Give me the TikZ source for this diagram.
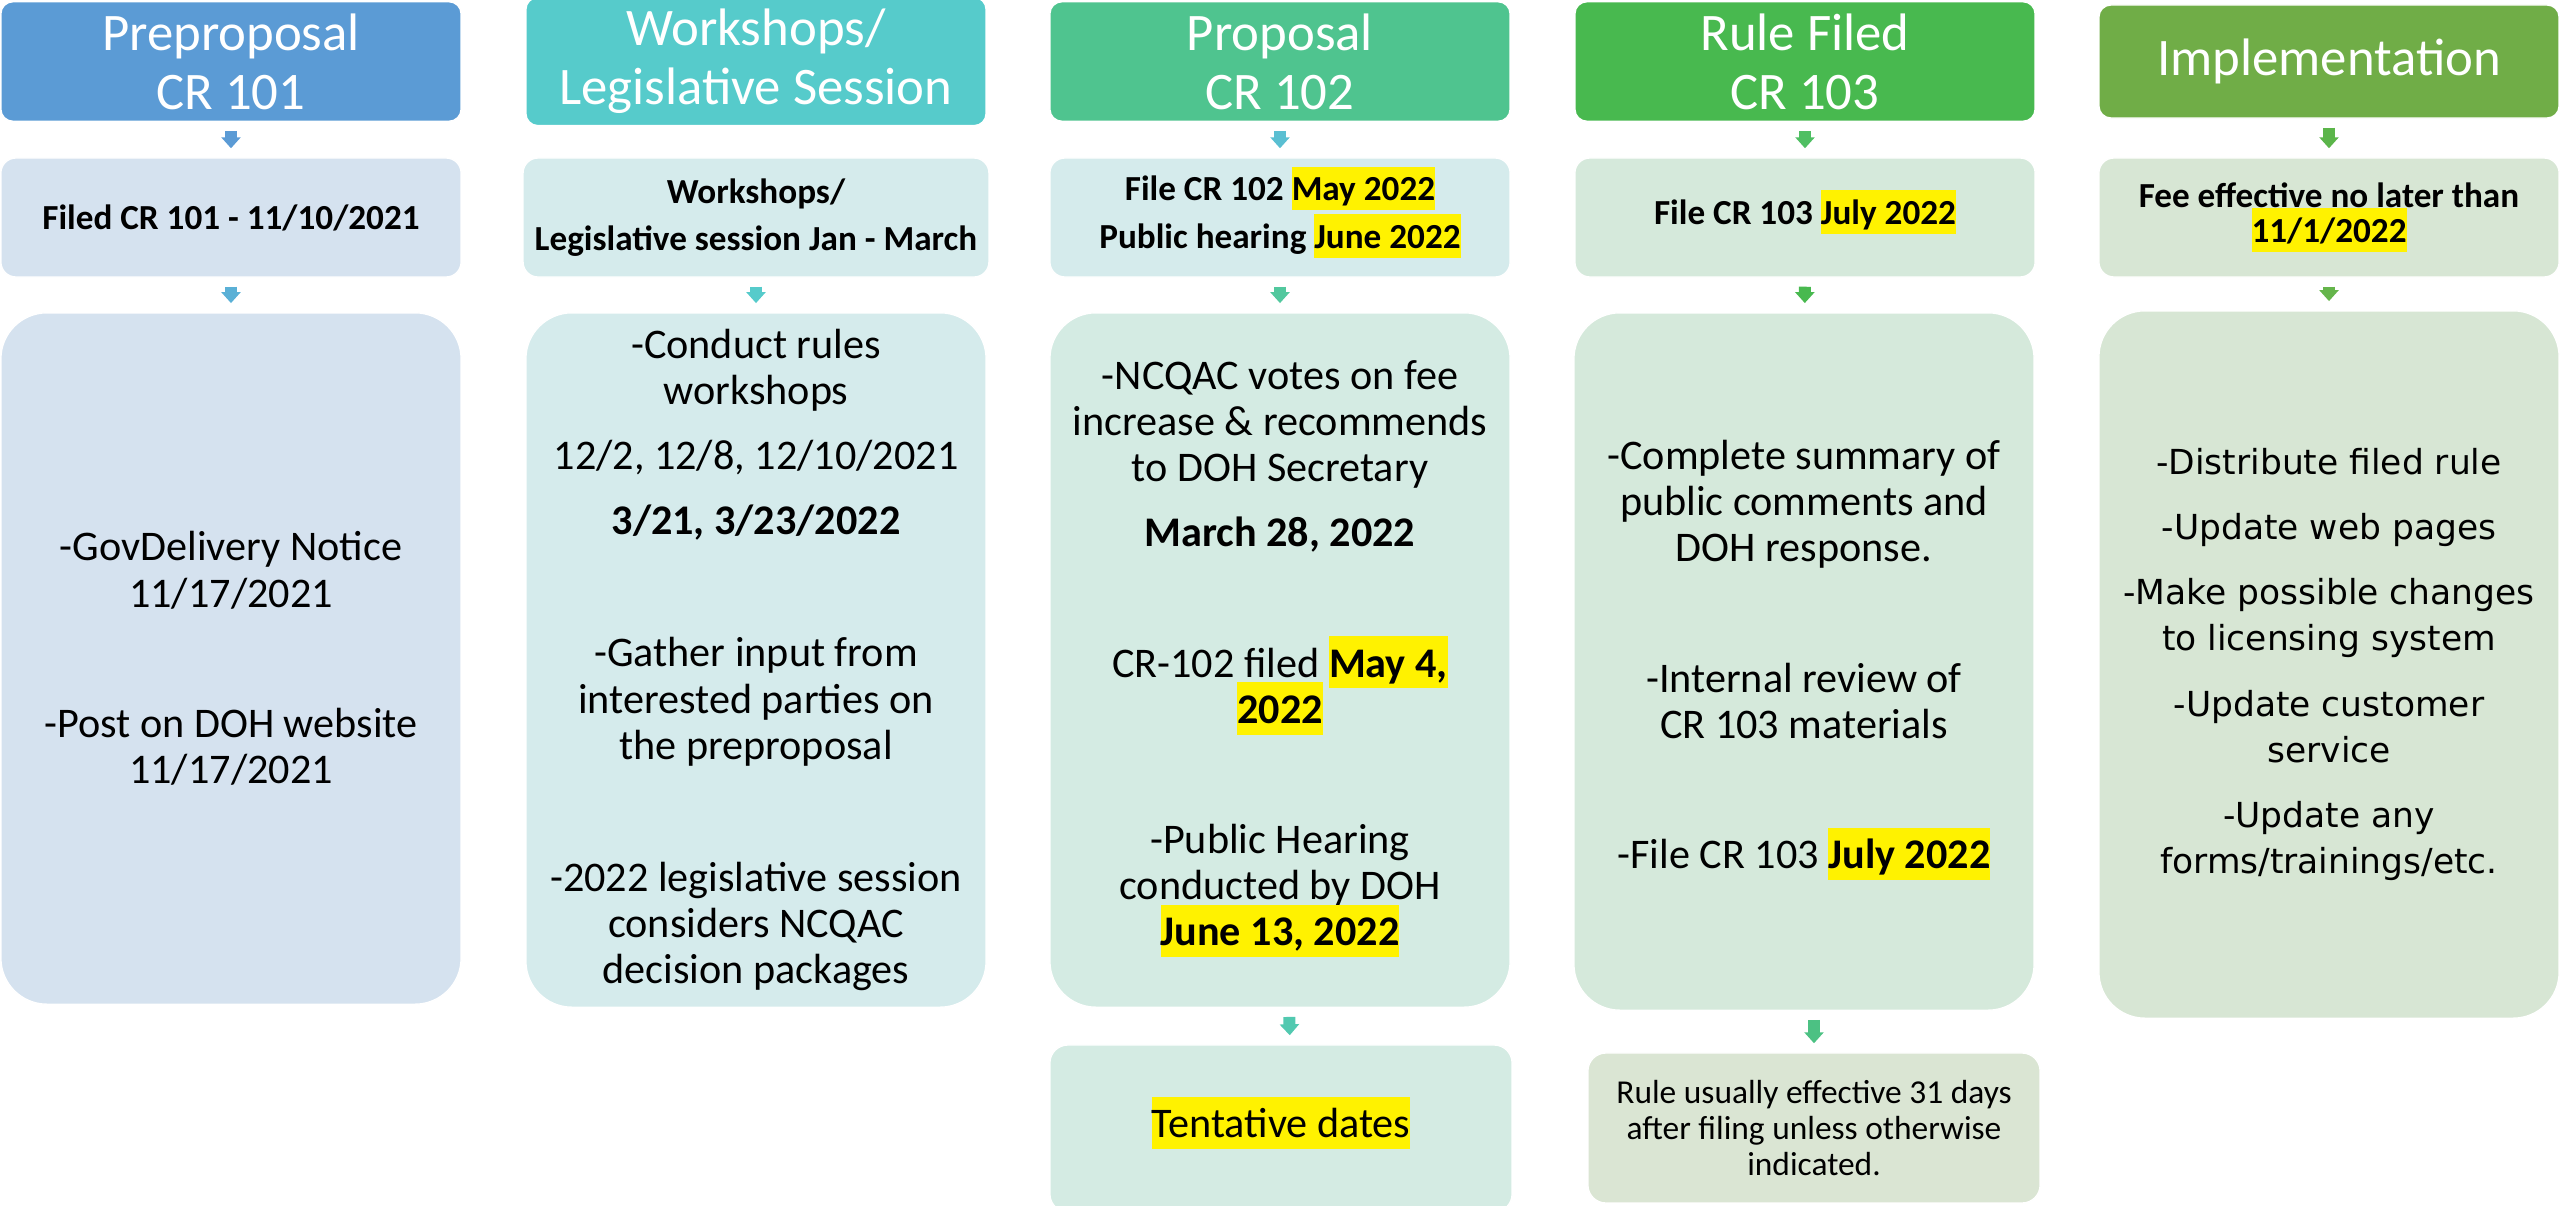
\documentclass[tikz,border=0pt]{standalone}
\usepackage{fontspec}
\setmainfont{Carlito}
\newfontfamily\implfont{DejaVu Sans}
\usetikzlibrary{positioning,arrows.meta}
\definecolor{hdone}{HTML}{5B9BD5}
\definecolor{hdtwo}{HTML}{56CBCB}
\definecolor{hdthree}{HTML}{4FC48F}
\definecolor{hdfour}{HTML}{48B94F}
\definecolor{hdfive}{HTML}{70AD47}
\definecolor{bxone}{HTML}{D5E2EF}
\definecolor{bxtwo}{HTML}{D5EBEC}
\definecolor{bxthree}{HTML}{D4EBE3}
\definecolor{bxfour}{HTML}{D5E9DB}
\definecolor{bxfive}{HTML}{D7E6D4}
\definecolor{bxnote}{HTML}{DAE5D3}
\definecolor{arone}{HTML}{5AB0D6}
\definecolor{arthree}{HTML}{5ABFD2}
\definecolor{arthreeb}{HTML}{52C89E}
\definecolor{arthreec}{HTML}{52C9B0}
\definecolor{arfour}{HTML}{4FBF63}
\definecolor{arfourc}{HTML}{4CC183}
\definecolor{arfive}{HTML}{5BB54A}
\definecolor{arfiveb}{HTML}{65B54B}
\newcommand{\hlt}[1]{{\setlength{\fboxsep}{0pt}\smash{\colorbox{yellow}{\rule[-0.27em]{0pt}{1.24em}#1}}}\strut}
\tikzset{colhead/.style={rectangle, rounded corners=0.12cm, draw=white, fill=#1, text=white, minimum width=4.6cm, minimum height=1.13cm, align=center, font=\fontsize{15}{16.8}\selectfont}}
\tikzset{stepbox/.style={rectangle, rounded corners=0.15cm, draw=white, fill=#1, minimum width=4.6cm, minimum height=1.19cm, align=center, font=\bfseries\fontsize{10}{10}\selectfont}}
\tikzset{detail/.style={rectangle, rounded corners=0.46cm, draw=white, fill=#1, minimum width=4.6cm, align=center, font=\fontsize{12}{13.1}\selectfont}}
\tikzset{remark/.style={rectangle, rounded corners=0.18cm, draw=white, fill=#1, align=center}}
\tikzset{flow/.style={draw=#1, line width=0.12cm, shorten <=0.09cm, shorten >=0.09cm, -{Triangle[width=0.19cm,length=0.11cm]}}}

\begin{document}
\begin{tikzpicture}[x=0.01cm, y=-0.01cm]
\useasboundingbox (0,0) rectangle (2560,1206);
% column heads
\node (h1) at (231,61.5) [colhead=hdone] {Preproposal\\CR 101};
\node (h2) at (756,61.5) [colhead=hdtwo] {Workshops/\\Legislative Session};
\node (h3) at (1280,61.5) [colhead=hdthree] {Proposal\\CR 102};
\node (h4) at (1805,61.5) [colhead=hdfour] {Rule Filed\\CR 103};
\node (h5) at (2329,61.5) [colhead=hdfive] {Implementation};

% filing steps
\node (s1) at (231,217.5) [stepbox=bxone] {Filed CR 101 - 11/10/2021};
\node (s2) at (756,217.5) [stepbox=bxtwo] {Workshops/\\[3.4pt]Legislative session Jan - March};
\node (s3) at (1280,217.5) [stepbox=bxtwo] {File CR 102 \hlt{May 2022}\\[2.5pt]Public hearing \hlt{June 2022}};
\node (s4) at (1805,217.5) [stepbox=bxfour] {File CR 103 \hlt{July 2022}};
\node (s5) at (2329,217.5) [stepbox=bxfive] {Fee effective no later than\\\hlt{11/1/2022}};

% details
\node (p1) at (231,658.5) [detail=bxone, minimum height=6.91cm] {-GovDelivery Notice\\11/17/2021\\[24pt]-Post on DOH website\\11/17/2021};
\node (p2) at (756,660) [detail=bxtwo, minimum height=6.94cm] {-Conduct rules\\workshops\\[5.4pt]12/2, 12/8, 12/10/2021\\[5.4pt]\textbf{3/21, 3/23/2022}\\[24.5pt]-Gather input from\\interested parties on\\the preproposal\\[24.5pt]-2022 legislative session\\considers NCQAC\\decision packages};
\node (p3) at (1280,660) [detail=bxthree, minimum height=6.94cm] {-NCQAC votes on fee\\increase \& recommends\\to DOH Secretary\\[5.4pt]\textbf{March 28, 2022}\\[24pt]CR-102 filed \hlt{\textbf{May 4,}}\\\hlt{\textbf{2022}}\\[24pt]-Public Hearing\\conducted by DOH\\\hlt{\textbf{June 13, 2022}}};
\node (p4) at (1804,661.5) [detail=bxfour, minimum height=6.97cm] {-Complete summary of\\public comments and\\DOH response.\\[24pt]-Internal review of\\CR 103 materials\\[24pt]-File CR 103 \hlt{\textbf{July 2022}}};
\node (p5) at (2329,664.5) [detail=bxfive, minimum height=7.07cm, font=\implfont\fontsize{9.8}{13.1}\selectfont] {-Distribute filed rule\\[5.4pt]-Update web pages\\[5.4pt]-Make possible changes\\to licensing system\\[5.4pt]-Update customer\\service\\[5.4pt]-Update any\\forms/trainings/etc.};

% notes
\node (t3) at (1281,1128.5) [remark=bxthree, minimum width=4.62cm, minimum height=1.67cm, font=\fontsize{12}{13.1}\selectfont] {\hlt{Tentative dates}};
\node (t4) at (1814,1128) [remark=bxnote, minimum width=4.52cm, minimum height=1.5cm, font=\fontsize{9.5}{10.2}\selectfont] {Rule usually effective 31 days\\after filing unless otherwise\\indicated.};

\draw[flow=hdone] (h1) -- (s1);
\draw[flow=arone] (s1) -- (p1);
\draw[flow=hdtwo] (s2) -- (p2);
\draw[flow=arthree] (h3) -- (s3);
\draw[flow=arthreeb] (s3) -- (p3);
\draw[flow=arthreec] ([xshift=0.09cm]p3.south) -- ([xshift=0.09cm]t3.north);
\draw[flow=arfour] (h4) -- (s4);
\draw[flow=hdfour] (s4) -- (p4);
\draw[flow=arfourc] (p4.south -| t4) -- (t4);
\draw[flow=arfive] (h5) -- (s5);
\draw[flow=arfiveb] (s5) -- (p5);
\end{tikzpicture}
\end{document}
